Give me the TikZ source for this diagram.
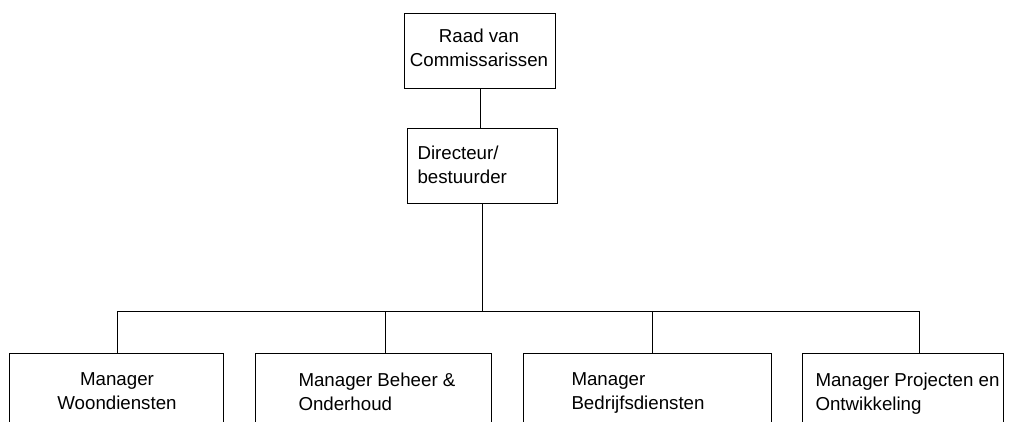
\documentclass[tikz,border=0pt]{standalone}
\usepackage{fontspec}
\setmainfont{Liberation Sans}
\usetikzlibrary{positioning,calc}
\tikzstyle{box}=[draw=black, inner sep=0pt, anchor=north west]
\tikzstyle{txt}=[inner sep=0pt, font=\fontsize{18.7}{24}\selectfont]

\begin{document}
\begin{tikzpicture}[x=1pt, y=-1pt, line width=1pt]
				\clip (0,0) rectangle (1012,422);
				% boxes
				\node[box, minimum width=151pt, minimum height=75pt] (RvC) at (404,13) {};
				\node[box, minimum width=150pt, minimum height=75pt] (Dir) at (407,128) {};
				\node[box, minimum width=214pt, minimum height=78pt] (Woon) at (9,353) {};
				\node[box, minimum width=236pt, minimum height=78pt] (Beheer) at (255,353) {};
				\node[box, minimum width=248pt, minimum height=78pt] (Bedrijf) at (523,353) {};
				\node[box, minimum width=201pt, minimum height=78pt] (Proj) at (802,353) {};
				
				% texts
				\node[txt, anchor=north, align=center] (RvCt) at (479,28) {Raad van\\Commissarissen};
				\node[txt, anchor=north west, align=left] (Dirt) at (417,145) {Directeur/\\bestuurder};
				\node[txt, anchor=north, align=center] (Woont) at (117,372) {Manager\\Woondiensten};
				\node[txt, anchor=north west, align=left] (Beheert) at (298,372) {Manager Beheer \&\\Onderhoud};
				\node[txt, anchor=north west, align=left] (Bedrijft) at (571,372) {Manager\\Bedrijfsdiensten};
				\node[txt, anchor=north west, align=left] (Projt) at (815,372) {Manager Projecten en\\Ontwikkeling};
				
				% bus
				\coordinate (J1) at (117,311);
				\coordinate (J2) at (385,311);
				\coordinate (J3) at (652,311);
				\coordinate (J4) at (919,311);
				
				\draw (RvC.south)--(RvC.south |- Dir.north);
				\draw (Dir.south)--(Dir.south |- J1);
				\draw (J1)--(J4);
				\draw (J1)--(J1 |- Woon.north);
				\draw (J2)--(J2 |- Beheer.north);
				\draw (J3)--(J3 |- Bedrijf.north);
				\draw (J4)--(J4 |- Proj.north);
			\end{tikzpicture}
\end{document}
